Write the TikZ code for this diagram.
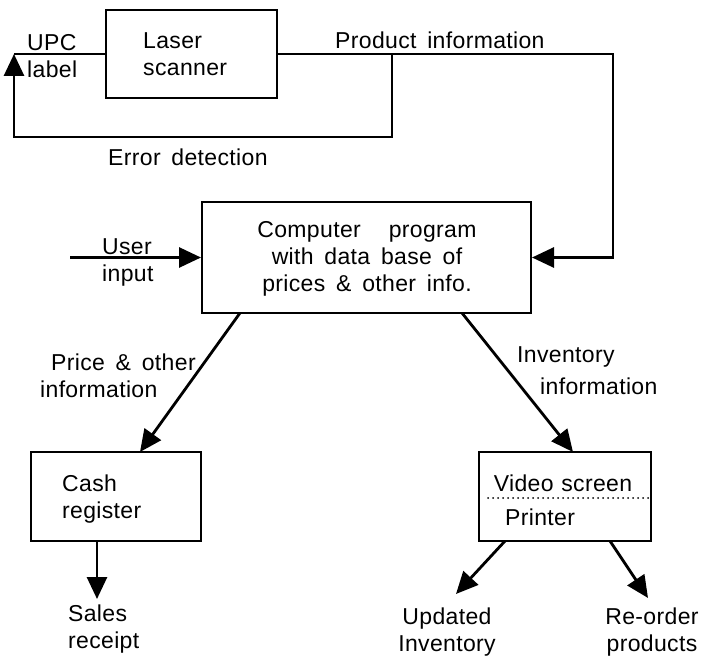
\documentclass[tikz,border=0pt]{standalone}
\usepackage{fontspec}
\setmainfont{Liberation Sans}[WordSpace=1.6, LetterSpace=1.5]
\usetikzlibrary{arrows.meta}
\begin{document}
\begin{tikzpicture}[x=1pt,y=-1pt,
  every node/.style={font=\fontsize{23}{27}\selectfont, inner sep=0pt},
  box/.style={draw, line width=2pt},
  conn/.style={line width=2.8pt},
  arr/.style={conn, -{Triangle[length=22pt,width=20pt]}},
  dots/.style={line width=2pt, line cap=round, dash pattern=on 0pt off 5pt}]
\path[use as bounding box] (0,0) rectangle (710,658);
% boxes
\node[box, minimum width=171pt, minimum height=88pt] (ls) at (191.5,54) {};
\node[box, minimum width=329pt, minimum height=111pt] (comp) at (366.5,257.5) {};
\node[box, minimum width=170pt, minimum height=89pt] (cash) at (116,496.5) {};
\node[box, minimum width=172pt, minimum height=89pt] (video) at (565,496.5) {};
% texts
\node[anchor=west, align=left] (lstxt) at (143,54) {Laser\\scanner};
\node[anchor=west, align=left] (upc) at (27,56) {UPC\\label};
\node[anchor=west] (pinfo) at (335,40) {Product information};
\node[anchor=west] (err) at (108,157) {Error detection};
\node[align=center] (comptxt) at (367,259) {Computer\hspace{0.75em} program\\with data base of\\prices \& other info.};
\node[anchor=west, align=left] (user) at (102,262) {User\\input};
\node[anchor=west, align=left] (price) at (40,376) {\hspace{11pt}Price \& other\\information};
\node[anchor=west, align=left] (inv) at (517,371) {Inventory\\[5pt]\hspace{23pt}information};
\node[anchor=west, align=left] (cashtxt) at (62,499) {Cash\\register};
\node[anchor=west, align=left] (sales) at (68,629) {Sales\\receipt};
\node (vs) at (563,483) {Video\hspace{-3pt} screen};
\node[anchor=west] (pr) at (505,517) {Printer};
\node[align=center] (upd) at (447,632) {Updated\\Inventory};
\node[align=center] (reo) at (652,632) {Re-order\\products};
% coordinates
\coordinate (upcTop) at (14,54);
\coordinate (errBL) at (14,137);
\coordinate (errBR) at (392,137);
\coordinate (errTop) at (392,54);
\coordinate (piR) at (613,54);
\coordinate (uin) at (70,257.5);
\coordinate (c1) at (240,313);
\coordinate (cashIn) at (140,452);
\coordinate (c2) at (462,313);
\coordinate (vidIn) at (573,452);
\coordinate (cashOut) at (97,541);
\coordinate (salesIn) at (97,599);
\coordinate (v1) at (505,541);
\coordinate (updIn) at (456,594);
\coordinate (v2) at (610,541);
\coordinate (reoIn) at (648,598);
\coordinate (dotl) at (488,498);
\coordinate (dotr) at (650,498);
% connectors
\draw[conn] (ls.west) -- (upcTop);
\draw[arr] (ls.east) -- (piR) |- (comp.east);
\draw[arr] (errTop) -- (errBR) -- (errBL) -- (upcTop);
\draw[arr] (uin) -- (comp.west);
\draw[arr] (c1) -- (cashIn);
\draw[arr] (c2) -- (vidIn);
\draw[arr] (cashOut) -- (salesIn);
\draw[arr] (v1) -- (updIn);
\draw[arr] (v2) -- (reoIn);
\draw[dots] (dotl) -- (dotr);
\end{tikzpicture}
\end{document}
